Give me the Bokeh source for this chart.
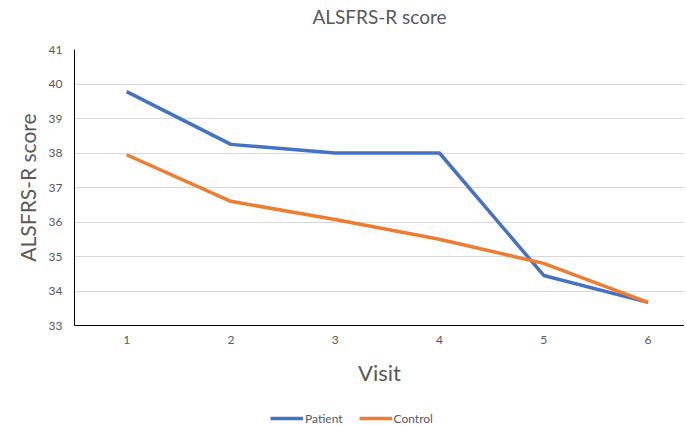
from bokeh.plotting import figure
from bokeh.layouts import column
from bokeh.models import Range1d, FixedTicker, Legend, LegendItem
from bokeh.embed import file_html
from bokeh.resources import INLINE

visits = [1, 2, 3, 4, 5, 6]
patient = [39.78, 38.25, 38.0, 38.0, 34.45, 33.67]
control = [37.95, 36.6, 36.07, 35.5, 34.8, 33.67]
y_ticks = [33, 34, 35, 36, 37, 38, 39, 40, 41]
series_names = ["Patient", "Control"]
series_colors = ["#4472C4", "#ED7D31"]

FONT = "Lato"
GREY = "#595959"
W = 684

# --- title strip ---
t = figure(width=W, height=34, output_backend="svg", toolbar_location=None,
           x_range=Range1d(0, 1), y_range=Range1d(0, 1),
           x_axis_location=None, y_axis_location=None,
           min_border_left=74, min_border_right=0, min_border_top=0, min_border_bottom=0)
t.title.text = "ALSFRS-R score"
t.title.align = "center"
t.title.offset = -26
t.title.text_font = FONT
t.title.text_font_size = "19px"
t.title.text_font_style = "normal"
t.title.text_color = GREY
t.title.standoff = 4
t.outline_line_color = None
t.grid.visible = False

# --- main chart ---
p = figure(frame_width=610, frame_height=276, output_backend="svg", toolbar_location=None,
           x_range=Range1d(0.5, 6.35), y_range=Range1d(33, 41), title_location=None,
           min_border_left=74, min_border_right=0, min_border_top=15, min_border_bottom=0)

p.outline_line_color = None
p.xgrid.grid_line_color = None
p.ygrid.grid_line_color = "#D9D9D9"
p.ygrid.grid_line_width = 1

p.xaxis.ticker = FixedTicker(ticks=visits)
p.yaxis.ticker = FixedTicker(ticks=y_ticks)
for ax in (p.xaxis, p.yaxis):
    ax.major_tick_line_color = None
    ax.minor_tick_line_color = None
    ax.major_tick_out = 0
    ax.major_tick_in = 0
    ax.axis_line_color = "#000000"
    ax.axis_line_width = 1
    ax.major_label_text_font = FONT
    ax.major_label_text_font_size = "12px"
    ax.major_label_text_color = GREY
    ax.axis_label_text_font = FONT
    ax.axis_label_text_font_style = "normal"
    ax.axis_label_text_color = GREY

p.xaxis.axis_label = "Visit"
p.yaxis.axis_label = "ALSFRS-R score"
p.xaxis.axis_label_text_font_size = "22px"
p.yaxis.axis_label_text_font_size = "21px"
p.xaxis.major_label_standoff = 10
p.xaxis.axis_label_standoff = 12
p.yaxis.major_label_standoff = 12
p.yaxis.axis_label_standoff = 6

p.line(visits, patient, line_color=series_colors[0], line_width=3.5)
p.line(visits, control, line_color=series_colors[1], line_width=3.5)

# --- legend strip (its lines lie outside its visible range; only the legend shows) ---
lg = figure(width=W, height=38, output_backend="svg", toolbar_location=None,
            x_range=Range1d(100, 101), y_range=Range1d(100, 101), title_location=None,
            x_axis_location=None, y_axis_location=None,
            min_border_left=74, min_border_right=0, min_border_top=0, min_border_bottom=0)
lg.outline_line_color = None
lg.grid.visible = False
lr = [lg.line(visits, vals, line_color=c, line_width=3.5)
      for vals, c in zip([patient, control], series_colors)]

legend = Legend(items=[LegendItem(label=n, renderers=[r]) for n, r in zip(series_names, lr)],
                orientation="horizontal", location=(196, 0))
legend.border_line_color = None
legend.background_fill_alpha = 0
legend.label_text_font = FONT
legend.label_text_font_size = "12px"
legend.label_text_color = GREY
legend.glyph_width = 33
legend.glyph_height = 16
legend.label_height = 16
legend.label_standoff = 2
legend.spacing = 16
legend.margin = 0
legend.padding = 0
lg.add_layout(legend, "center")

layout = column(t, p, lg, spacing=0)
open("out.html", "w").write(file_html(layout, INLINE))
